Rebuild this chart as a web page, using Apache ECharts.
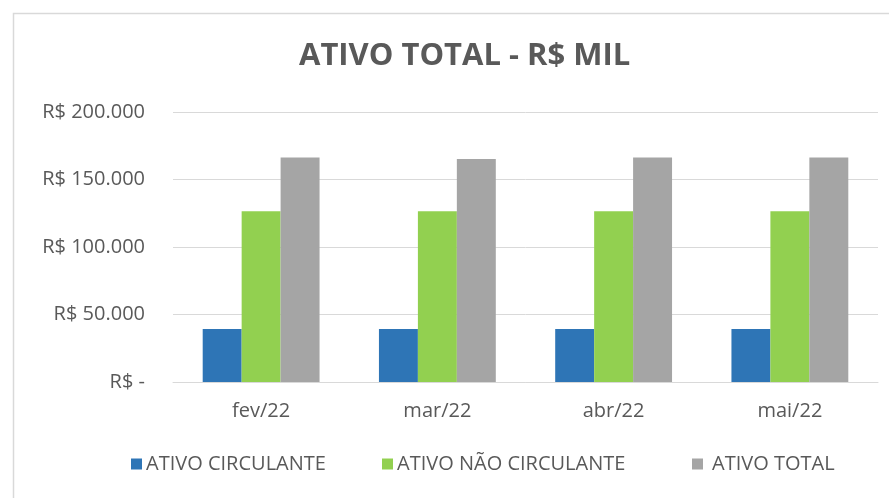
<!DOCTYPE html>
<html>
<head>
<meta charset="utf-8">
<script src="https://cdn.jsdelivr.net/npm/echarts@6/dist/echarts.min.js"></script>
<style>
  html, body { margin: 0; padding: 0; background: #fff; }
  #chart { width: 889px; height: 498px; }
</style>
</head>
<body>
<div id="chart"></div>
<script>
// dados (R$ mil)
var meses = ['fev/22', 'mar/22', 'abr/22', 'mai/22'];
var ativoCirculante = [39300, 39300, 39300, 39300];
var ativoNaoCirculante = [126500, 126500, 126500, 126500];
var ativoTotal = [166300, 165200, 166300, 166300];
var eixoY = [0, 50000, 100000, 150000, 200000];
var nomes = ['ATIVO CIRCULANTE', 'ATIVO NÃO CIRCULANTE', 'ATIVO TOTAL'];

var fonte = '"Open Sans", sans-serif';
var cinzaTexto = '#595959';

var chart = echarts.init(document.getElementById('chart'));

function fmtReal(v) {
    if (v === 0) return 'R$ -';
    return 'R$ ' + String(v).replace(/\B(?=(\d{3})+(?!\d))/g, '.');
}

// uma legenda por série, para acertar a posição de cada item
var legendaX = [131, 382, 692];
var legendas = nomes.map(function (nome, i) {
    return {
        data: [nome],
        top: 454,
        left: legendaX[i],
        padding: 0,
        itemWidth: 11,
        itemHeight: 11,
        icon: 'rect',
        textStyle: {
            fontFamily: fonte,
            fontSize: 20,
            color: cinzaTexto,
            padding: [0, 0, 0, i == 2 ? 4 : -1]
        }
    };
});

var option = {
    animation: false,
    // moldura do gráfico
    graphic: [{
        type: 'rect',
        shape: { x: 13.5, y: 13.5, width: 900, height: 500 },
        style: { fill: 'none', stroke: '#d9d9d9', lineWidth: 1.5 },
        silent: true
    }],
    title: {
        text: 'ATIVO TOTAL - R$ MIL',
        left: 294,
        top: 36,
        textStyle: {
            fontFamily: fonte,
            fontSize: 31,
            fontWeight: 'bold',
            color: cinzaTexto
        }
    },
    legend: legendas,
    grid: {
        left: 173,
        right: 11,
        top: 112,
        bottom: 116,
        containLabel: false
    },
    xAxis: {
        type: 'category',
        data: meses,
        axisTick: { show: false },
        axisLine: { lineStyle: { color: '#d9d9d9', width: 1 } },
        axisLabel: {
            margin: 19,
            fontFamily: fonte,
            fontSize: 20,
            color: cinzaTexto
        }
    },
    yAxis: {
        type: 'value',
        min: eixoY[0],
        max: eixoY[eixoY.length - 1],
        interval: eixoY[1] - eixoY[0],
        axisLine: { show: false },
        axisTick: { show: false },
        splitLine: { lineStyle: { color: '#d9d9d9', width: 1 } },
        axisLabel: {
            margin: 28,
            fontFamily: fonte,
            fontSize: 20,
            color: cinzaTexto,
            formatter: fmtReal
        }
    },
    series: [
        {
            name: nomes[0],
            type: 'bar',
            data: ativoCirculante,
            barGap: '0%',
            barCategoryGap: '33.7%',
            itemStyle: { color: '#2e75b6' }
        },
        {
            name: nomes[1],
            type: 'bar',
            data: ativoNaoCirculante,
            itemStyle: { color: '#92d050' }
        },
        {
            name: nomes[2],
            type: 'bar',
            data: ativoTotal,
            itemStyle: { color: '#a5a5a5' }
        }
    ]
};

chart.setOption(option);
</script>
</body>
</html>
